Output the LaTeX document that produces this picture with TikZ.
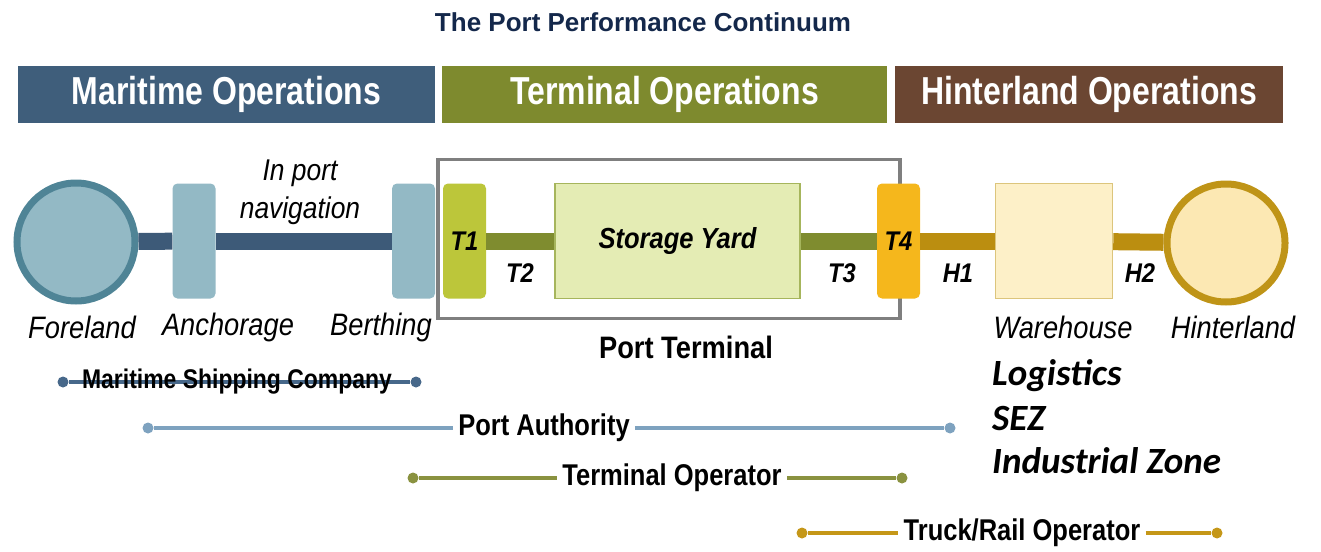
\documentclass[tikz,border=0pt]{standalone}
\usepackage{fontspec}
\setmainfont{Liberation Sans}
\newfontfamily\narrowfont[FakeStretch=0.88]{Liberation Sans}
\newfontfamily\condfont[FakeStretch=0.85]{Liberation Sans}
\newfontfamily\bannerfont[FakeStretch=0.82]{Liberation Sans}
\newfontfamily\calfont{Carlito}
\usetikzlibrary{arrows.meta}
\definecolor{titleblue}{HTML}{14284B}
\definecolor{marbanner}{HTML}{3F5E7B}
\definecolor{terbanner}{HTML}{7E8A2E}
\definecolor{hinbanner}{HTML}{6B4632}
\definecolor{marline}{HTML}{3D5A78}
\definecolor{marfill}{HTML}{93B9C5}
\definecolor{marring}{HTML}{4F8496}
\definecolor{tone}{HTML}{BCC63A}
\definecolor{terline}{HTML}{7F8C2F}
\definecolor{yardfill}{HTML}{E4ECB4}
\definecolor{yardedge}{HTML}{A6B55C}
\definecolor{tfour}{HTML}{F5B71C}
\definecolor{hinline}{HTML}{BB8E10}
\definecolor{housefill}{HTML}{FDF0C8}
\definecolor{houseedge}{HTML}{DCC57C}
\definecolor{hinfill}{HTML}{FCE8B3}
\definecolor{hinring}{HTML}{BF9417}
\definecolor{framegray}{HTML}{7F7F7F}
\definecolor{mscline}{HTML}{47688A}
\definecolor{paline}{HTML}{7EA2BF}
\definecolor{toline}{HTML}{8A9240}
\definecolor{trline}{HTML}{C59718}
\begin{document}
\begin{tikzpicture}[x=1pt,y=-1pt,
  banner/.style={draw=none,minimum height=57pt,inner sep=0pt,text=white,font=\bannerfont\bfseries\fontsize{39}{42}\selectfont},
  stage/.style={draw=none,rounded corners=5pt,minimum width=43pt,minimum height=115pt,inner sep=0pt},
  place/.style={draw,circle,line width=7pt,minimum size=118pt,inner sep=0pt},
  where/.style={font=\narrowfont\itshape\fontsize{31}{33}\selectfont},
  leg/.style={font=\narrowfont\bfseries\itshape\fontsize{27}{29}\selectfont},
  party/.style={line width=4.5pt},
  partyname/.style={inner xsep=5pt,inner ysep=0pt,font=\condfont\bfseries\fontsize{30}{32}\selectfont},
  partyend/.style={circle,inner sep=0pt,minimum size=11pt},
  zone/.style={anchor=base west,inner xsep=0pt,font=\calfont\bfseries\itshape\fontsize{37}{39}\selectfont},
]
\useasboundingbox (0,0) rectangle (1321,551);
%%
\node (node_title) at (643,22) [text=titleblue,font=\bfseries\fontsize{26}{28}\selectfont] {The Port Performance Continuum};
\node (node_mar) at (226.5,94) [banner,fill=marbanner,minimum width=417pt] {Maritime Operations};
\node (node_ter) at (664.5,94) [banner,fill=terbanner,minimum width=445pt] {Terminal Operations};
\node (node_hin) at (1089,94) [banner,fill=hinbanner,minimum width=388pt] {Hinterland Operations};
%
\node (node_frame) at (669,239) [draw=framegray,line width=3.5pt,minimum width=462pt,minimum height=159pt] {};
%
\node (node_foreland) at (76,242) [place,draw=marring,fill=marfill] {};
\node (node_anchorage) at (194,241) [stage,fill=marfill] {};
\node (node_berthing) at (413.5,241) [stage,fill=marfill] {};
\node (node_t1) at (464.5,241) [stage,fill=tone,leg] {T1};
\node (node_yard) at (677.5,241) [stage,rounded corners=0pt,draw=yardedge,line width=1.5pt,fill=yardfill,minimum width=245pt,font=\narrowfont\bfseries\itshape\fontsize{29}{31}\selectfont] {Storage Yard};
\node (node_t4) at (898.5,241) [stage,fill=tfour,leg] {T4};
\node (node_house) at (1054,241) [stage,rounded corners=0pt,draw=houseedge,line width=1.5pt,fill=housefill,minimum width=117pt] {};
\node (node_hinterland) at (1226,243) [place,draw=hinring,fill=hinfill] {};
%
\draw [marline,line width=17pt] (node_foreland) -- (node_anchorage);
\draw [marline,line width=17pt] (node_anchorage) -- (node_berthing);
\draw [terline,line width=17pt] (node_t1) -- (node_yard);
\draw [terline,line width=17pt] (node_yard) -- (node_t4);
\draw [hinline,line width=17pt] (node_t4) -- (node_house);
\draw [hinline,line width=17pt] (node_house) -- (node_hinterland);
%
\node (node_inport) at (300,192) [align=center,font=\narrowfont\itshape\fontsize{30}{38}\selectfont] {In port\\navigation};
\node (node_t2) at (520,273) [leg] {T2};
\node (node_t3) at (842,273) [leg] {T3};
\node (node_h1) at (958,273) [leg] {H1};
\node (node_h2) at (1140,273) [leg] {H2};
%
\node (node_foreland_l) at (82,327) [where] {Foreland};
\node (node_anchorage_l) at (228,327) [where] {Anchorage};
\node (node_berthing_l) at (381,327) [where] {Berthing};
\node (node_house_l) at (1063,327) [where] {Warehouse};
\node (node_hinterland_l) at (1233,327) [where] {Hinterland};
\node (node_terminal_l) at (686,347) [font=\narrowfont\bfseries\fontsize{31}{33}\selectfont] {Port Terminal};
%
\node (node_logistics) at (992,385) [zone] {Logistics};
\node (node_sez) at (992,430) [zone] {SEZ};
\node (node_zone) at (992,473) [zone] {Industrial Zone};
%
\node (node_msc_a) at (63,382) [partyend,fill=mscline] {};
\node (node_msc_b) at (416,382) [partyend,fill=mscline] {};
\draw [party,mscline] (node_msc_a) -- (node_msc_b);
\node (node_msc) at (237,382) [partyname,font=\condfont\bfseries\fontsize{27}{29}\selectfont] {Maritime Shipping Company};
%
\node (node_pa_a) at (148,428) [partyend,fill=paline] {};
\node (node_pa_b) at (950,428) [partyend,fill=paline] {};
\node (node_pa) at (544,428) [partyname] {Port Authority};
\draw [party,paline] (node_pa_a) -- (node_pa);
\draw [party,paline] (node_pa) -- (node_pa_b);
%
\node (node_to_a) at (413,478) [partyend,fill=toline] {};
\node (node_to_b) at (902,478) [partyend,fill=toline] {};
\node (node_to) at (672,478) [partyname] {Terminal Operator};
\draw [party,toline] (node_to_a) -- (node_to);
\draw [party,toline] (node_to) -- (node_to_b);
%
\node (node_tr_a) at (802,533) [partyend,fill=trline] {};
\node (node_tr_b) at (1217,533) [partyend,fill=trline] {};
\node (node_tr) at (1022,533) [partyname] {Truck/Rail Operator};
\draw [party,trline] (node_tr_a) -- (node_tr);
\draw [party,trline] (node_tr) -- (node_tr_b);
%
\end{tikzpicture}
\end{document}
